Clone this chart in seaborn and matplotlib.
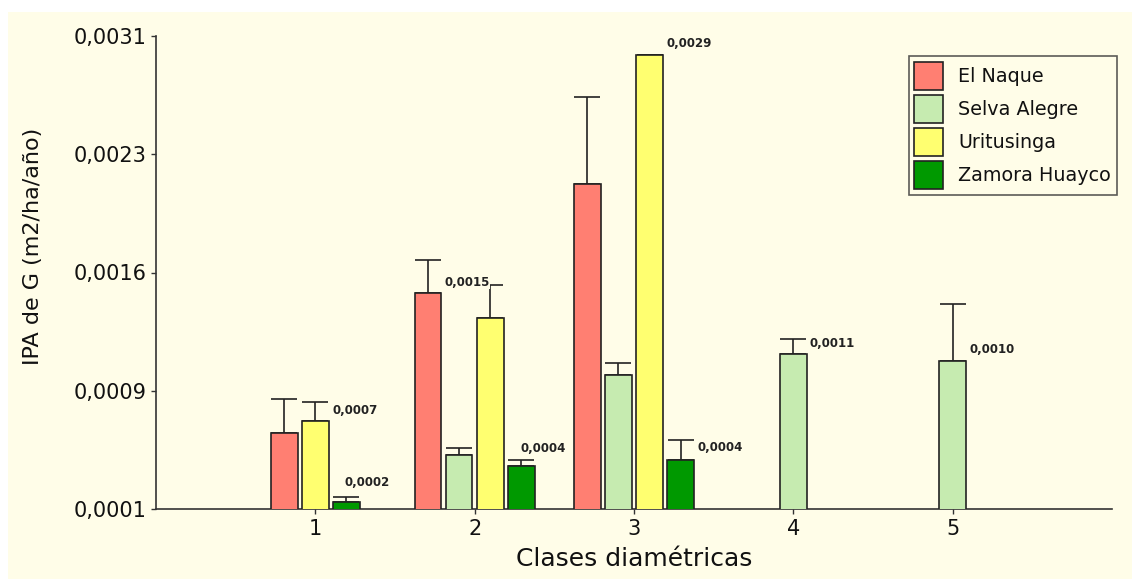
import seaborn as sns
import numpy as np
import matplotlib.pyplot as plt
from matplotlib.patches import Rectangle

nan = np.nan

classes = [1, 2, 3, 4, 5]
series = ['El Naque', 'Selva Alegre', 'Uritusinga', 'Zamora Huayco']

el_naque = [0.00058, 0.00147, 0.00216, nan, nan]
el_naque_err = [0.00022, 0.00021, 0.00055, nan, nan]
selva_alegre = [nan, 0.00044, 0.00095, 0.00108, 0.00104]
selva_alegre_err = [nan, 0.000045, 0.000075, 0.0001, 0.00036]
uritusinga = [0.00066, 0.00131, 0.00298, nan, nan]
uritusinga_err = [0.00012, 0.00021, 0.0, nan, nan]
zamora = [0.000146, 0.00037, 0.00041, nan, nan]
zamora_err = [0.00003, 0.00004, 0.00013, nan, nan]

yticks = [0.0001, 0.00085, 0.0016, 0.00235, 0.0031]
ytick_labels = ['0,0001', '0,0009', '0,0016', '0,0023', '0,0031']

# value labels: (series index, class, text)
value_labels = [(2, 1, '0,0007'), (3, 1, '0,0002'), (2, 2, '0,0015'), (3, 2, '0,0004'),
                (2, 3, '0,0029'), (3, 3, '0,0004'), (1, 4, '0,0011'), (1, 5, '0,0010')]
# offsets in points, relative to bar right edge / top of error bar
label_offsets = [(2.7, -6), (-11, 10.6), (-42.5, 2), (-10, 8.4), (2.4, 8), (2.5, -6), (2.4, -3.3), (2.4, -33)]

colors = ['#ff7f72', '#c6ebb0', '#ffff70', '#009900']
bg = '#fffde8'
ink = '#111111'

values = [el_naque, selva_alegre, uritusinga, zamora]
errors = [el_naque_err, selva_alegre_err, uritusinga_err, zamora_err]

sns.set_style('ticks')
plt.rcParams['font.family'] = ['DejaVu Sans']
plt.rcParams['text.color'] = ink
plt.rcParams['axes.labelcolor'] = ink

fig = plt.figure(figsize=(11.32, 5.79), dpi=100, facecolor='white')
fig.patches.append(Rectangle((8 / 1132, 0), 1, 1 - 12 / 579, transform=fig.transFigure,
                             facecolor=bg, edgecolor='none', zorder=-10))
ax = fig.add_axes([156 / 1132, 70 / 579, (1112 - 156) / 1132, (509 - 36) / 579])
ax.set_facecolor(bg)

width = 0.167
step = 0.195
xpos = {}
for gi, c in enumerate(classes):
    present = [s for s in range(len(series)) if not np.isnan(values[s][gi])]
    n = len(present)
    for k, s in enumerate(present):
        xpos[(s, c)] = c + (k - (n - 1) / 2) * step

for s, name in enumerate(series):
    xs, ys, es = [], [], []
    for gi, c in enumerate(classes):
        if not np.isnan(values[s][gi]):
            xs.append(xpos[(s, c)])
            ys.append(values[s][gi])
            es.append(errors[s][gi])
    ax.bar(xs, ys, width=width, color=colors[s], edgecolor='#222222', linewidth=1.2,
           label=name, zorder=3)
    ax.errorbar(xs, ys, yerr=[np.zeros(len(es)), es], fmt='none', ecolor='#222222',
                elinewidth=1.2, capsize=9.6, capthick=1.2, zorder=2)

for (s, c, txt), (dx, dy) in zip(value_labels, label_offsets):
    gi = classes.index(c)
    top = values[s][gi] + errors[s][gi]
    ax.annotate(txt, (xpos[(s, c)] + width / 2, top), xytext=(dx, dy),
                textcoords='offset points', fontsize=8.5, fontweight='bold',
                ha='left', va='center', color='#222222', zorder=5,
                bbox=dict(boxstyle='square,pad=0.05', facecolor=bg, edgecolor='none'))

ax.set_xlim(0, 6)
ax.set_ylim(0.0001, 0.0031)
ax.set_xticks(classes)
ax.set_xticklabels([str(c) for c in classes], fontsize=15)
ax.set_yticks(yticks)
ax.set_yticklabels(ytick_labels, fontsize=15)
ax.tick_params(axis='both', colors='#333333', length=3.5, width=1, pad=3.5, labelcolor=ink)
sns.despine(ax=ax)
for sp in ['left', 'bottom']:
    ax.spines[sp].set_color('#333333')
    ax.spines[sp].set_linewidth(1.2)

ax.set_xlabel('Clases diamétricas', fontsize=18, labelpad=6)
ax.set_ylabel('IPA de G (m2/ha/año)', fontsize=16)
ax.yaxis.set_label_coords(-0.118, 0.555)

leg = ax.legend(loc='upper right', bbox_to_anchor=(1.0052, 0.958), borderaxespad=0,
                fontsize=13.8, frameon=True, fancybox=False, handlelength=1.5,
                handleheight=1.9, handletextpad=0.8, labelspacing=0.25, borderpad=0.3)
leg.get_frame().set_edgecolor('#333333')
leg.get_frame().set_facecolor(bg)
leg.get_frame().set_linewidth(1.2)
for t in leg.get_texts():
    t.set_color(ink)

plt.savefig('out.png', dpi=100, facecolor=fig.get_facecolor())
